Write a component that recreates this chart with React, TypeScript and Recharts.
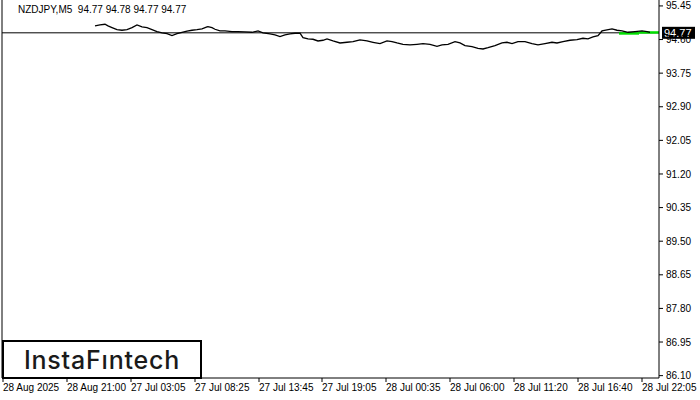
import { ComposedChart, Line, XAxis, YAxis, ReferenceLine } from 'recharts';

// M5 bars, one bar per pixel column, index 0 = left edge of the plot
const barIndex = [
  93, 98, 103, 106, 110, 115, 120, 125, 130, 135, 140, 145, 150, 155, 160, 165, 170, 175, 180, 185,
  190, 195, 200, 205, 206, 210, 213, 218, 223, 230, 236, 243, 250, 256, 261, 268, 273, 278, 283, 288,
  293, 298, 301, 306, 311, 316, 321, 325, 331, 338, 345, 351, 358, 365, 371, 378, 385, 390, 395, 401,
  408, 415, 421, 428, 435, 440, 446, 453, 458, 463, 470, 476, 481, 486, 493, 500, 505, 510, 516, 523,
  530, 536, 543, 550, 555, 561, 568, 575, 581, 586, 591, 596, 600, 605, 610, 615, 620, 626, 633, 640,
  645, 648,
];
const closePrice = [
  94.944, 94.969, 94.987, 94.944, 94.901, 94.85, 94.835, 94.85, 94.901, 94.969, 94.918, 94.901, 94.85,
  94.799, 94.766, 94.749, 94.698, 94.749, 94.784, 94.81, 94.835, 94.85, 94.868, 94.918, 94.926, 94.901,
  94.86, 94.817, 94.817, 94.799, 94.799, 94.792, 94.784, 94.817, 94.766, 94.741, 94.716, 94.673, 94.716,
  94.741, 94.759, 94.759, 94.647, 94.615, 94.607, 94.564, 94.582, 94.615, 94.564, 94.513, 94.531, 94.546,
  94.589, 94.564, 94.531, 94.496, 94.564, 94.546, 94.513, 94.48, 94.463, 94.48, 94.496, 94.48, 94.43,
  94.463, 94.48, 94.546, 94.513, 94.445, 94.42, 94.379, 94.361, 94.394, 94.445, 94.513, 94.531, 94.496,
  94.546, 94.546, 94.496, 94.463, 94.496, 94.531, 94.513, 94.546, 94.582, 94.597, 94.632, 94.615, 94.665,
  94.698, 94.817, 94.843, 94.868, 94.835, 94.817, 94.784, 94.799, 94.817, 94.799, 94.784,
];

// green pattern levels at the right end
const patternStart = [617, 637];
const patternEnd = [637, 658];
const patternLevel = [94.754, 94.779];

const lastPrice = 94.77;
const headerText = 'NZDJPY,M5  94.77 94.78 94.77 94.77';

const priceTicks = [86.1, 86.95, 87.8, 88.65, 89.5, 90.35, 91.2, 92.05, 92.9, 93.75, 94.6, 95.45];
const timeTicks = [1, 65, 129, 193, 257, 320, 384, 448, 512, 576, 640];
const timeLabels = [
  '28 Aug 2025',
  '28 Aug 21:00',
  '27 Jul 03:05',
  '27 Jul 08:25',
  '27 Jul 13:45',
  '27 Jul 19:05',
  '28 Jul 00:35',
  '28 Jul 06:00',
  '28 Jul 11:20',
  '28 Jul 16:40',
  '28 Jul 22:05',
];

const priceData = barIndex.map((bar, i) => ({ bar, price: closePrice[i] }));
const patternData = patternStart.map((start, i) => [
  { bar: start, level: patternLevel[i] },
  { bar: patternEnd[i], level: patternLevel[i] },
]);

const FONT = '"Liberation Sans", Arial, sans-serif';

const TimeTick = ({ x, y, payload }: any) => {
  const idx = timeTicks.indexOf(payload.value);
  return (
    <text x={x} y={y} dy="0.71em" textAnchor="start" fontSize={10} fill="#000" fontFamily={FONT}>
      {idx >= 0 ? timeLabels[idx] : ''}
    </text>
  );
};

// black box with the current price on the right scale
const PriceTag = ({ viewBox }: any) => {
  const { x, y, width } = viewBox;
  return (
    <g>
      <rect x={x + width + 3} y={y - 6} width={33} height={12} fill="#000" />
      <text x={x + width + 5} y={y} dy="0.36em" fontSize={11} fill="#fff" fontFamily={FONT}>
        {lastPrice.toFixed(2)}
      </text>
    </g>
  );
};

export default function App() {
  return (
    <div style={{ position: 'absolute', left: 0, top: 0, width: 700, height: 400, background: '#fff' }}>
      <ComposedChart width={700} height={400} margin={{ top: 0, right: 0, bottom: 0, left: 2 }}>
        <XAxis
          type="number"
          dataKey="bar"
          domain={[0, 657]}
          ticks={timeTicks}
          interval={0}
          height={22}
          stroke="#000"
          tickSize={4}
          tickMargin={2}
          tick={<TimeTick />}
          allowDataOverflow
        />
        <YAxis
          orientation="right"
          type="number"
          domain={[86.04, 95.6]}
          ticks={priceTicks}
          interval={0}
          width={41}
          stroke="#000"
          tickSize={4}
          tickMargin={3}
          tick={{ fontSize: 10, fill: '#000', fontFamily: FONT }}
          tickFormatter={(v: number) => v.toFixed(2)}
          allowDataOverflow
        />
        <ReferenceLine x={0} stroke="#000" />
        <ReferenceLine y={lastPrice} stroke="#000" label={<PriceTag />} />
        {patternData.map((seg, i) => (
          <Line
            key={i}
            data={seg}
            dataKey="level"
            stroke="#00e000"
            strokeWidth={2.5}
            dot={false}
            isAnimationActive={false}
          />
        ))}
        <Line
          data={priceData}
          dataKey="price"
          type="linear"
          stroke="#000"
          strokeWidth={1.3}
          dot={false}
          isAnimationActive={false}
        />
      </ComposedChart>
      <div
        style={{
          position: 'absolute',
          left: 18,
          top: 4,
          fontFamily: FONT,
          fontSize: 10,
          color: '#000',
          whiteSpace: 'pre',
        }}
      >
        {headerText}
      </div>
      <div
        style={{
          position: 'absolute',
          left: 2,
          top: 340,
          width: 200,
          height: 39,
          boxSizing: 'border-box',
          border: '2px solid #000',
          background: '#fff',
          fontFamily: 'Inter, sans-serif',
          fontWeight: 500,
          fontSize: 25,
          color: '#1a1a1a',
          display: 'flex',
          alignItems: 'center',
          justifyContent: 'center',
          letterSpacing: 0.8,
        }}
      >
        InstaFıntech
      </div>
    </div>
  );
}
